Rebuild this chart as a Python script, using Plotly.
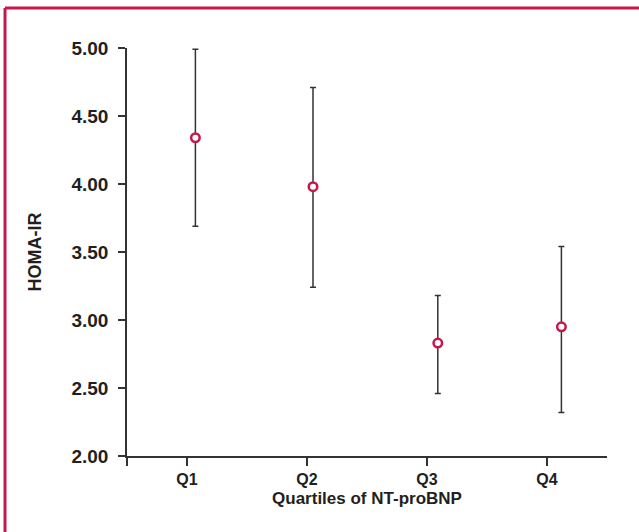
import plotly.graph_objects as go

categories = ["Q1", "Q2", "Q3", "Q4"]
cat_pos = [1, 2, 3, 4]
point_pos = [1.07, 2.05, 3.09, 4.12]
means = [4.34, 3.98, 2.83, 2.95]
upper = [4.99, 4.71, 3.18, 3.54]
lower = [3.69, 3.24, 2.46, 2.32]
y_ticks = [2.0, 2.5, 3.0, 3.5, 4.0, 4.5, 5.0]
y_tick_labels = ["2.00", "2.50", "3.00", "3.50", "4.00", "4.50", "5.00"]

err_plus = [u - m for u, m in zip(upper, means)]
err_minus = [m - l for m, l in zip(means, lower)]

W, H = 639, 532
ML, MR, MT, MB = 127, 32, 48, 76
PW, PH = W - ML - MR, H - MT - MB

fig = go.Figure()
fig.add_trace(go.Scatter(
    x=point_pos, y=means, mode="markers",
    marker=dict(symbol="circle", size=8.5, color="white",
                line=dict(color="#c8164b", width=2.5)),
    error_y=dict(type="data", symmetric=False, array=err_plus, arrayminus=err_minus,
                 color="#333333", thickness=1.5, width=3),
    showlegend=False, cliponaxis=False, hoverinfo="skip",
))

font_family = "Liberation Sans, Arial, sans-serif"
fig.update_layout(
    width=W, height=H,
    margin=dict(l=ML, r=MR, t=MT, b=MB),
    paper_bgcolor="white", plot_bgcolor="white",
    font=dict(family=font_family, color="#231f20"),
    xaxis=dict(
        range=[0.5, 4.5], tickmode="array",
        tickvals=[0.5] + cat_pos, ticktext=[""] + categories,
        showgrid=False, zeroline=False, showline=True, linecolor="#333333", linewidth=1.5,
        ticks="outside", ticklen=8, tickwidth=1.5, tickcolor="#333333",
        tickfont=dict(size=16, family=font_family, weight="bold"),
        title=dict(text="Quartiles of NT-proBNP", standoff=5,
                   font=dict(size=17, family=font_family, weight="bold")),
    ),
    yaxis=dict(
        range=[2, 5], tickmode="array", tickvals=y_ticks, ticktext=y_tick_labels,
        showgrid=False, zeroline=False, showline=True, linecolor="#333333", linewidth=1.5,
        ticks="outside", ticklen=7, tickwidth=1.5, tickcolor="#333333",
        ticklabelstandoff=6,
        tickfont=dict(size=19, family=font_family, weight="bold"),
        title=dict(text="HOMA-IR", standoff=25,
                   font=dict(size=18, family=font_family, weight="bold")),
    ),
)

# crimson frame (top and left edges visible)
frame_color = "#c8164b"
top_y = (H - MB - 8) / PH
left_x = (5 - ML) / PW
fig.add_shape(type="line", xref="paper", yref="paper",
              x0=left_x, x1=(W - ML + 5) / PW, y0=top_y, y1=top_y,
              line=dict(color=frame_color, width=3))
fig.add_shape(type="line", xref="paper", yref="paper",
              x0=left_x, x1=left_x, y0=top_y, y1=-(MB + 5) / PH,
              line=dict(color=frame_color, width=3))

fig.write_html("out.html", config={"displayModeBar": False},
               post_script="document.body.style.margin='0';")
